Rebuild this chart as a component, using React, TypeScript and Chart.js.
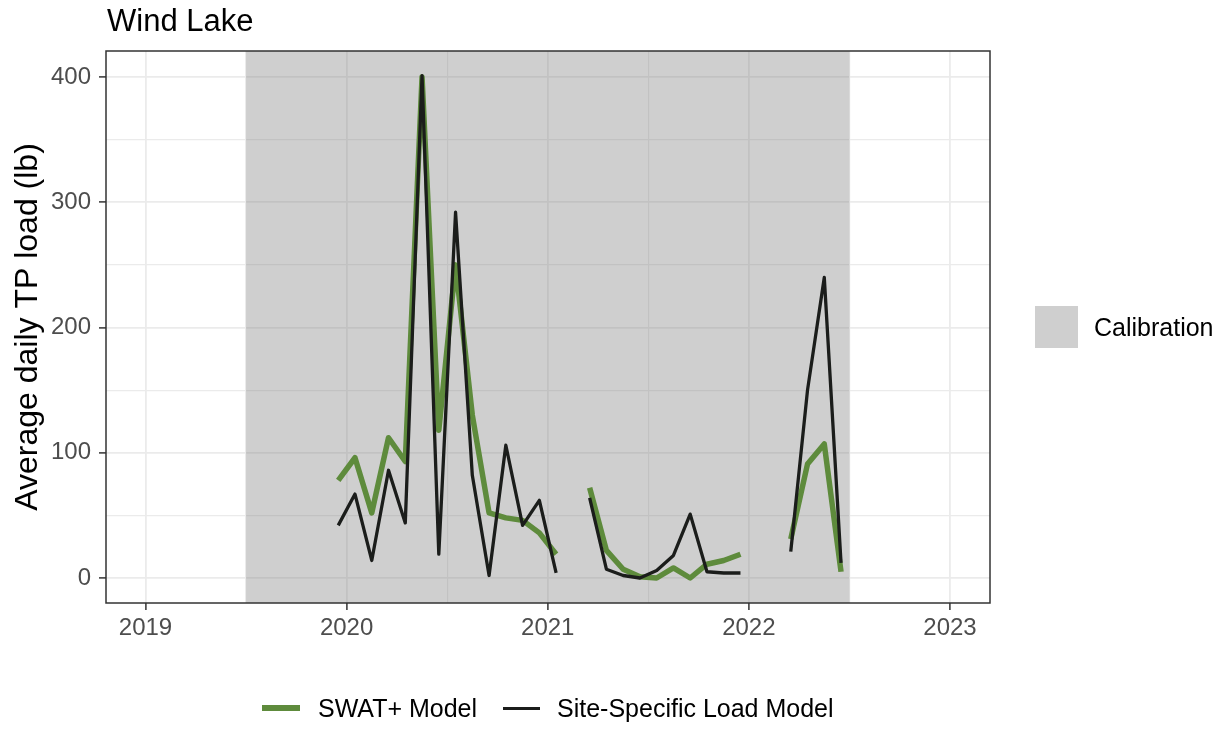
import React, { useEffect, useRef } from 'react';
import { Chart, registerables } from 'chart.js';

Chart.register(...registerables);

// ---- data ----
const months: string[] = [
  '2019-12', '2020-01', '2020-02', '2020-03', '2020-04', '2020-05', '2020-06', '2020-07',
  '2020-08', '2020-09', '2020-10', '2020-11', '2020-12', '2021-01', '2021-02', '2021-03',
  '2021-04', '2021-05', '2021-06', '2021-07', '2021-08', '2021-09', '2021-10', '2021-11',
  '2021-12', '2022-01', '2022-02', '2022-03', '2022-04', '2022-05', '2022-06',
];
const swatValues: (number | null)[] = [
  78, 96, 52, 112, 93, 400, 118, 250,
  130, 52, 48, 46, 36, 19, null, 72,
  22, 7, 1, 0, 8, 0, 11, 14,
  19, null, null, 31, 91, 107, 5,
];
const siteValues: (number | null)[] = [
  42, 67, 14, 86, 44, 401, 19, 292,
  82, 2, 106, 42, 62, 4, null, 64,
  7, 2, 0, 6, 18, 51, 5, 4,
  4, null, null, 21, 150, 240, 12,
];
const xTickValues: number[] = [2019, 2019.5, 2020, 2020.5, 2021, 2021.5, 2022, 2022.5, 2023];
const yTickValues: number[] = [0, 50, 100, 150, 200, 250, 300, 350, 400];
const calibrationRange: number[] = [2019.5, 2022.5];
const xRange: number[] = [2018.8036, 2023.199];
const yRange: number[] = [-19.96, 420.76];

const FONT = "Arial, 'Liberation Sans', sans-serif";

const toYear = (m: string) => {
  const [y, mo] = m.split('-').map(Number);
  return y + (mo - 0.5) / 12;
};

const shadePlugin = {
  id: 'calibShade',
  beforeDatasetsDraw(chart: any) {
    const { ctx, chartArea, scales } = chart;
    const x0 = scales.x.getPixelForValue(calibrationRange[0]);
    const x1 = scales.x.getPixelForValue(calibrationRange[1]);
    ctx.save();
    ctx.fillStyle = 'rgba(128,128,128,0.38)';
    ctx.fillRect(x0, chartArea.top, x1 - x0, chartArea.bottom - chartArea.top);
    ctx.restore();
  },
  afterDatasetsDraw(chart: any) {
    const { ctx, chartArea } = chart;
    ctx.save();
    ctx.strokeStyle = '#333333';
    ctx.lineWidth = 1.5;
    ctx.strokeRect(chartArea.left, chartArea.top, chartArea.right - chartArea.left, chartArea.bottom - chartArea.top);
    ctx.restore();
  },
};

export default function App() {
  const ref = useRef<HTMLCanvasElement>(null);
  useEffect(() => {
    if (!ref.current) return;
    const xs = months.map(toYear);
    const chart = new Chart(ref.current, {
      type: 'line',
      data: {
        datasets: [
          {
            label: 'Site-Specific Load Model',
            data: xs.map((x, i) => ({ x, y: siteValues[i] })) as any,
            borderColor: '#1b1d1b',
            borderWidth: 3.3,
            pointRadius: 0,
            tension: 0,
            spanGaps: false,
            borderJoinStyle: 'round',
            order: 1,
          },
          {
            label: 'SWAT+ Model',
            data: xs.map((x, i) => ({ x, y: swatValues[i] })) as any,
            borderColor: '#5e8b3c',
            borderWidth: 5.5,
            pointRadius: 0,
            tension: 0,
            spanGaps: false,
            borderJoinStyle: 'round',
            order: 2,
          },
        ],
      },
      options: {
        animation: false,
        responsive: false,
        devicePixelRatio: 1,
        layout: { padding: { left: 0, top: 51, right: 235, bottom: 87 } },
        plugins: { legend: { display: false }, tooltip: { enabled: false }, title: { display: false } },
        scales: {
          x: {
            type: 'linear',
            min: xRange[0],
            max: xRange[1],
            afterBuildTicks: (s: any) => { s.ticks = xTickValues.map((v) => ({ value: v })); },
            afterFit: (s: any) => { s.height = 40; },
            border: { display: false },
            grid: {
              color: '#ebebeb',
              lineWidth: (c: any) => (c.tick && Number.isInteger(c.tick.value) ? 1.8 : 1.2),
              tickColor: (c: any) => (c.tick && Number.isInteger(c.tick.value) ? '#333333' : 'rgba(0,0,0,0)'),
              tickLength: 7,
              tickWidth: 1.5,
            },
            ticks: {
              autoSkip: false,
              maxRotation: 0,
              padding: 4,
              color: '#4d4d4d',
              font: { family: FONT, size: 24 },
              callback: (v: any) => (Number.isInteger(v) ? String(v) : ''),
            },
          },
          y: {
            type: 'linear',
            min: yRange[0],
            max: yRange[1],
            afterBuildTicks: (s: any) => { s.ticks = yTickValues.map((v) => ({ value: v })); },
            afterFit: (s: any) => { s.width = 106; },
            border: { display: false },
            grid: {
              color: '#ebebeb',
              lineWidth: (c: any) => (c.tick && c.tick.value % 100 === 0 ? 1.8 : 1.2),
              tickColor: (c: any) => (c.tick && c.tick.value % 100 === 0 ? '#333333' : 'rgba(0,0,0,0)'),
              tickLength: 7,
              tickWidth: 1.5,
            },
            ticks: {
              autoSkip: false,
              padding: 8,
              color: '#4d4d4d',
              font: { family: FONT, size: 24 },
              callback: (v: any) => (v % 100 === 0 ? String(v) : ''),
            },
            title: {
              display: true,
              text: 'Average daily TP load (lb)',
              color: '#000000',
              font: { family: FONT, size: 32 },
              padding: { top: 9, bottom: 0 },
            },
          },
        },
      },
      plugins: [shadePlugin],
    });
    return () => chart.destroy();
  }, []);

  const text = (extra: React.CSSProperties): React.CSSProperties => ({
    position: 'absolute',
    fontFamily: FONT,
    whiteSpace: 'nowrap',
    ...extra,
  });

  return (
    <div style={{ position: 'fixed', left: 0, top: 0, width: 1225, height: 730, background: '#ffffff' }}>
      <canvas ref={ref} width={1225} height={730} style={{ position: 'absolute', left: 0, top: 0 }} />
      <div style={text({ left: 107, top: 5, fontSize: 31, lineHeight: '32px', color: '#000' })}>Wind Lake</div>
      {/* calibration legend */}
      <div style={{ position: 'absolute', left: 1035, top: 306, width: 43, height: 42, background: '#cfcfcf' }} />
      <div style={text({ left: 1094, top: 312, fontSize: 25, lineHeight: '30px', color: '#000' })}>Calibration</div>
      {/* bottom legend */}
      <div style={{ position: 'absolute', left: 262, top: 705, width: 38, height: 5.5, background: '#5e8b3c' }} />
      <div style={text({ left: 318, top: 693, fontSize: 25, lineHeight: '30px', color: '#000' })}>SWAT+ Model</div>
      <div style={{ position: 'absolute', left: 503, top: 706.5, width: 37, height: 3.3, background: '#1b1d1b' }} />
      <div style={text({ left: 557, top: 693, fontSize: 25, lineHeight: '30px', color: '#000' })}>Site-Specific Load Model</div>
    </div>
  );
}
